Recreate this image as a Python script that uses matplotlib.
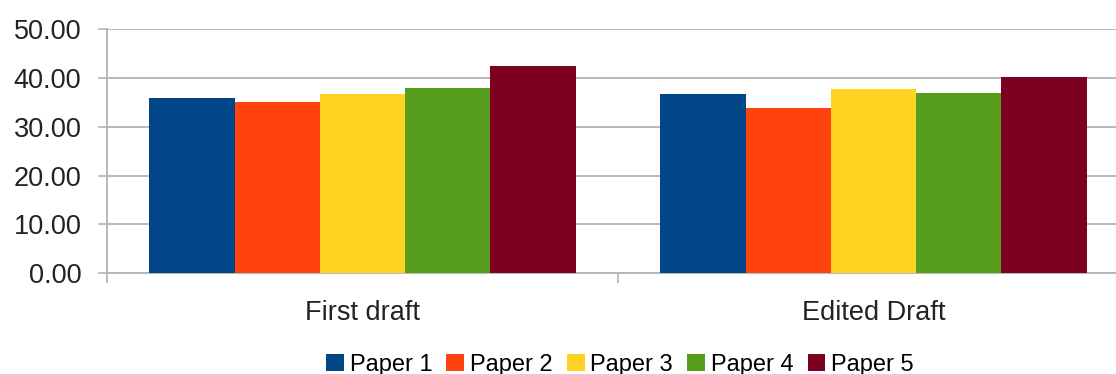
import matplotlib.pyplot as plt
import numpy as np

plt.rcParams['font.family'] = ['Liberation Sans', 'DejaVu Sans']

categories = ['First draft', 'Edited Draft']
series = ['Paper 1', 'Paper 2', 'Paper 3', 'Paper 4', 'Paper 5']
values = {
    'Paper 1': [35.9, 36.7],
    'Paper 2': [35.2, 33.8],
    'Paper 3': [36.7, 37.7],
    'Paper 4': [38.0, 37.0],
    'Paper 5': [42.4, 40.2],
}
colors = ['#004586', '#ff420e', '#ffd320', '#579d1c', '#7e0021']

fig = plt.figure(figsize=(11.16, 3.74), dpi=100)
# plot area runs a bit past the right edge of the canvas
ax = fig.add_axes([107 / 1116, 100.7 / 374, 1022 / 1116, 244 / 374])

group_w = 0.834
bar_w = group_w / len(series)
centers = np.arange(len(categories)) + 0.5
for i, (name, c) in enumerate(zip(series, colors)):
    x = centers - group_w / 2 + bar_w * (i + 0.5)
    ax.bar(x, values[name], width=bar_w, color=c, label=name, zorder=3,
           linewidth=0)

grid_c = '#b3b3b3'
ax.set_xlim(0, len(categories))
ax.set_ylim(0, 50)
ax.set_yticks(np.arange(0, 51, 10))
ax.set_yticklabels([f'{v:.2f}' for v in np.arange(0, 51, 10)])
ax.yaxis.grid(True, color=grid_c, linewidth=1.3, zorder=0)

ax.set_xticks(np.arange(len(categories) + 1))
ax.set_xticklabels([])
ax.set_xticks(centers, minor=True)
ax.set_xticklabels(categories, minor=True)
ax.tick_params(axis='x', which='major', length=7, width=1.2, color=grid_c,
               direction='out')
ax.tick_params(axis='x', which='minor', length=0, pad=19, labelsize=19.5,
               labelcolor='#222222')
ax.tick_params(axis='y', length=6.5, width=1.2, color=grid_c, pad=12,
               labelsize=19.5, labelcolor='#222222')

for s in ['top', 'right']:
    ax.spines[s].set_visible(False)
for s in ['left', 'bottom']:
    ax.spines[s].set_color(grid_c)
    ax.spines[s].set_linewidth(1.3)

fig.legend(loc='center', bbox_to_anchor=(620 / 1116, 9 / 374), ncol=5,
           frameon=False, fontsize=17, handlelength=0.75, handleheight=0.75,
           handletextpad=0.25, columnspacing=0.6, borderaxespad=0)

fig.savefig('out.png', dpi=100)
